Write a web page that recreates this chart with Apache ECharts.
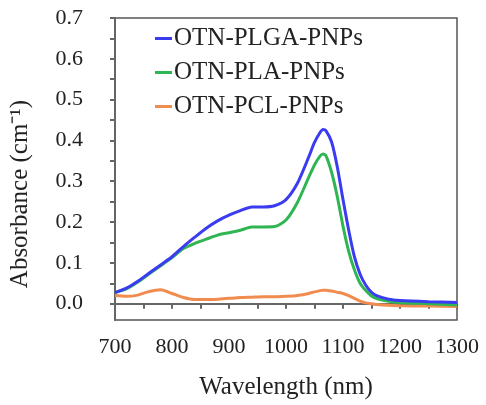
<!DOCTYPE html>
<html>
<head>
<meta charset="utf-8">
<script src="https://cdn.jsdelivr.net/npm/echarts@6/dist/echarts.min.js"></script>
<style>
  html, body { margin: 0; padding: 0; background: #fff; }
  #chart { width: 486px; height: 405px; }
</style>
</head>
<body>
<div id="chart"></div>
<script>
// wavelength (nm)
const wavelength = [700, 720, 740, 760, 780, 800, 820, 840, 860, 880, 900, 920, 940, 960, 980, 1000,
  1020, 1040, 1050, 1060, 1065, 1070, 1080, 1090, 1100, 1110, 1120, 1130, 1140, 1150, 1160, 1180, 1200, 1250, 1300]

// absorbance (cm-1)
const plga = [0.027, 0.038, 0.055, 0.075, 0.095, 0.115, 0.14, 0.163, 0.185, 0.203, 0.217, 0.228, 0.237, 0.237, 0.24, 0.255,
  0.295, 0.36, 0.395, 0.42, 0.427, 0.424, 0.396, 0.335, 0.255, 0.18, 0.115, 0.072, 0.045, 0.028, 0.019, 0.011, 0.008, 0.005, 0.003]
const pla = [0.027, 0.036, 0.053, 0.073, 0.093, 0.113, 0.135, 0.148, 0.158, 0.168, 0.174, 0.18, 0.188, 0.188, 0.189, 0.205,
  0.248, 0.31, 0.34, 0.362, 0.367, 0.363, 0.322, 0.262, 0.19, 0.128, 0.083, 0.05, 0.032, 0.019, 0.012, 0.006, 0.003, 0.0, -0.003]
const pcl = [0.02, 0.018, 0.021, 0.03, 0.034, 0.025, 0.015, 0.01, 0.01, 0.011, 0.013, 0.015, 0.016, 0.017, 0.017, 0.018,
  0.02, 0.025, 0.029, 0.032, 0.033, 0.033, 0.031, 0.028, 0.025, 0.02, 0.013, 0.006, 0.002, 0.0, -0.002, -0.004, -0.005, -0.006, -0.007]

const seriesNames = ['OTN-PLGA-PNPs', 'OTN-PLA-PNPs', 'OTN-PCL-PNPs']
const seriesColors = ['#3b3bf2', '#2fb552', '#f08c50']

const yLabels = [0, 0.1, 0.2, 0.3, 0.4, 0.5, 0.6, 0.7]
const yTicks = [0, 0.05, 0.1, 0.15, 0.2, 0.25, 0.3, 0.35, 0.4, 0.45, 0.5, 0.55, 0.6, 0.65, 0.7]

const font = '"Liberation Serif", "Times New Roman", serif'
const axisColor = '#666'
const textColor = '#222'

const chart = echarts.init(document.getElementById('chart'))

const pairs = arr => wavelength.map((w, i) => [w, arr[i]])

chart.setOption({
  animation: false,
  backgroundColor: '#fff',
  grid: {
    left: 115,
    top: 18,
    right: 29,
    bottom: 82,
    show: true,
    borderColor: '#555',
    borderWidth: 1.5
  },
  legend: {
    orient: 'vertical',
    left: 150,
    top: 21,
    icon: 'rect',
    itemWidth: 17,
    itemHeight: 3,
    itemGap: 9,
    textStyle: {
      fontFamily: font,
      fontSize: 25,
      color: textColor,
      padding: [0, 0, 0, -3]
    },
    data: seriesNames
  },
  xAxis: {
    type: 'value',
    min: 700,
    max: 1300,
    interval: 100,
    name: 'Wavelength (nm)',
    nameLocation: 'middle',
    nameGap: 55,
    nameTextStyle: { fontFamily: font, fontSize: 25, color: textColor },
    axisLine: { lineStyle: { color: axisColor, width: 2 } },
    axisTick: { inside: false, length: 5, lineStyle: { color: axisColor, width: 2 } },
    minorTick: { show: true, splitNumber: 2, length: 5, lineStyle: { color: axisColor, width: 2 } },
    axisLabel: { fontFamily: font, fontSize: 22, color: textColor, margin: 16, formatter: v => String(v) },
    splitLine: { show: false }
  },
  yAxis: {
    type: 'value',
    min: -0.04,
    max: 0.7,
    name: 'Absorbance (cm\u207B\u00B9)',
    nameLocation: 'middle',
    nameGap: 82,
    nameTextStyle: { fontFamily: font, fontSize: 25, color: textColor, padding: [0, 50, 0, 0] },
    axisLine: { lineStyle: { color: axisColor, width: 2 } },
    axisTick: { inside: false, length: 5, customValues: yTicks, lineStyle: { color: axisColor, width: 2 } },
    axisLabel: {
      fontFamily: font,
      fontSize: 22,
      color: textColor,
      margin: 32,
      customValues: yLabels,
      formatter: v => v.toFixed(1)
    },
    splitLine: { show: false }
  },
  series: [plga, pla, pcl].map((arr, i) => ({
    name: seriesNames[i],
    type: 'line',
    data: pairs(arr),
    smooth: 0.25,
    showSymbol: false,
    z: 3 - i,
    lineStyle: { color: seriesColors[i], width: 3 },
    itemStyle: { color: seriesColors[i] }
  }))
})
</script>
</body>
</html>
